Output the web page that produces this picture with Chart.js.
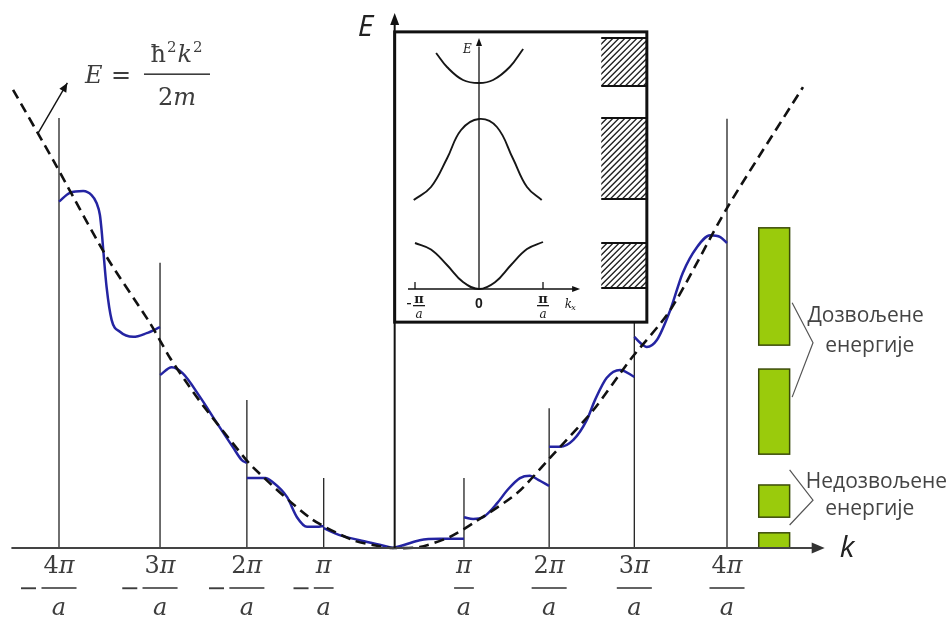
<!DOCTYPE html>
<html><head><meta charset="utf-8">
<script src="https://cdn.jsdelivr.net/npm/chart.js@4.4.1/dist/chart.umd.min.js"></script>
<style>html,body{margin:0;padding:0;background:#fff;overflow:hidden}canvas{display:block}</style>
</head><body>
<canvas id="c" width="952" height="622"></canvas>
<script>
// ---------- main diagram data (k in drawn units of pi/a, E in arbitrary energy units) ----------
const zoneK   = [-4.00,-2.79,-1.75,-0.83,0.85,1.87,2.89,4.00];
const zoneTop = [93.5,62.0,32.2,15.2,15.2,30.4,48.9,93.3];
const tickNum = ["4","3","2","","","2","3","4"];
const tickNeg = [true,true,true,true,false,false,false,false];

const blueK = [
 [-4.00,-3.87,-3.71,-3.61,-3.55,-3.51,-3.49,-3.47,-3.43,-3.37,-3.27,-3.11,-2.95,-2.79],
 [-2.79,-2.65,-2.52,-2.31,-2.11,-1.92,-1.81,-1.75],
 [-1.75,-1.53,-1.44,-1.27,-1.15,-1.03,-0.91,-0.83],
 [-0.83,-0.64,-0.40,-0.16,0],
 [0,0.14,0.32,0.56,0.85],
 [0.85,0.96,1.08,1.25,1.37,1.52,1.64,1.74,1.87],
 [1.87,2.00,2.16,2.32,2.42,2.56,2.72,2.89],
 [2.89,2.96,3.04,3.16,3.32,3.47,3.64,3.80,3.92,4.00]
];
const blueE = [
 [75.3,77.2,77.6,76.7,75.0,72.4,69.1,64.8,56.7,49.6,47.0,45.9,46.7,48.0],
 [37.6,39.3,38.0,32.8,27.2,22.0,19.1,18.5],
 [15.2,15.2,14.3,11.1,6.7,4.6,4.6,4.8],
 [4.3,2.8,1.7,0.7,0],
 [0,0.7,1.7,2.0,2.0],
 [6.7,6.3,6.7,9.8,12.6,15.2,15.7,14.8,13.5],
 [22.0,22.0,23.5,27.8,32.2,37.0,38.7,37.2],
 [45.9,44.6,43.7,45.2,51.7,59.8,65.4,68.0,67.6,66.3]
];

const dashK = [-4.55,-4.07,-3.43,-2.91,-2.67,-2.47,-2.28,-1.92,-1.68,-0.99,-0.48,-0.16,0,0.32,0.68,0.96,1.49,1.88,2.40,2.84,3.32,4.00,4.91];
const dashE = [99.6,84.3,63.3,48.9,41.3,35.9,31.1,22.8,17.6,6.5,1.7,0.4,0,0.2,2.4,5.4,12.0,19.6,30.0,40.9,51.7,73.9,100.2];

// allowed energy bands (green bars)
const bandLo = [44.1,20.4,6.7,0];
const bandHi = [69.6,38.9,13.7,3.3];
const barK   = [4.38,4.75];

// braces next to labels
const braceK1 = [4.78,5.03,4.78], braceE1 = [53.3,44.6,32.8];
const braceK2 = [4.75,5.03,4.75], braceE2 = [17.0,10.4,5.0];

// formula pointer arrow
const arrowK = [-4.25,-3.90], arrowE = [90.2,101.1];

// inset frame (main units)
const boxK = [0.02,3.04], boxE = [49.1,112.2];

// ---------- inset data (k in pi/a, E inset units) ----------
const inK1 = [-1.00,-0.75,-0.50,-0.25,0,0.25,0.50,0.75,1.00];
const inE1 = [1.84,1.58,0.96,0.28,0,0.27,0.96,1.60,1.88];
const inK2 = [-1.02,-0.75,-0.50,-0.28,0,0.28,0.53,0.75,0.98];
const inE2 = [3.56,4.08,5.22,6.36,6.80,6.48,5.22,4.08,3.56];
const inK3 = [-0.67,-0.50,-0.25,0,0.22,0.48,0.69];
const inE3 = [9.44,8.88,8.36,8.24,8.36,8.88,9.60];
const hatchK  = [1.91,2.62];
const hatchLo = [8.12,3.60,0.04];
const hatchHi = [10.04,6.84,1.84];

// ---------- build datasets ----------
const pts = (ks,es)=>ks.map((k,i)=>({x:k,y:es[i]}));
const datasets = [];
datasets.push({data:pts(dashK,dashE), showLine:true, pointRadius:0, borderColor:'#111', borderWidth:2.6,
  borderDash:[10,6], tension:0.25, order:0});
blueK.forEach((ks,i)=>datasets.push({data:pts(ks,blueE[i]), showLine:true, pointRadius:0,
  borderColor:'#2424a2', borderWidth:2.5, cubicInterpolationMode:'monotone', order:1}));
zoneK.forEach((k,i)=>datasets.push({data:[{x:k,y:0},{x:k,y:zoneTop[i]}], showLine:true, pointRadius:0,
  borderColor:'#222', borderWidth:1.3, order:3}));
[[braceK1,braceE1],[braceK2,braceE2]].forEach(([ks,es])=>datasets.push({data:pts(ks,es), showLine:true,
  pointRadius:0, borderColor:'#555', borderWidth:1.2, order:2}));
[[inK1,inE1],[inK2,inE2],[inK3,inE3]].forEach(([ks,es])=>datasets.push({data:pts(ks,es), showLine:true,
  pointRadius:0, borderColor:'#161616', borderWidth:1.9, tension:0.4,
  xAxisID:'xi', yAxisID:'yi', order:2}));

const TXT = '#3d3d3d';
function arrowHead(ctx,x0,y0,x1,y1,len,hw){
  const a=Math.atan2(y1-y0,x1-x0);
  ctx.beginPath();
  ctx.moveTo(x1,y1);
  ctx.lineTo(x1-len*Math.cos(a)+hw*Math.sin(a), y1-len*Math.sin(a)-hw*Math.cos(a));
  ctx.lineTo(x1-len*Math.cos(a)-hw*Math.sin(a), y1-len*Math.sin(a)+hw*Math.cos(a));
  ctx.closePath(); ctx.fill();
}

const decor = {
  id:'decor',
  beforeDraw(chart){
    const ctx=chart.ctx; ctx.save(); ctx.fillStyle='#fff'; ctx.fillRect(0,0,chart.width,chart.height); ctx.restore();
  },
  beforeDatasetsDraw(chart){
    const ctx=chart.ctx, s=chart.scales;
    const X=v=>s.x.getPixelForValue(v), Y=v=>s.y.getPixelForValue(v);
    const XI=v=>s.xi.getPixelForValue(v), YI=v=>s.yi.getPixelForValue(v);
    ctx.save();
    for(let i=0;i<bandLo.length;i++){
      const x0=X(barK[0]), x1=X(barK[1]), y0=Y(bandHi[i]), y1=Y(bandLo[i]);
      ctx.fillStyle='#9acb0c'; ctx.fillRect(x0,y0,x1-x0,y1-y0);
      ctx.strokeStyle='#3a4a08'; ctx.lineWidth=1.5; ctx.strokeRect(x0,y0,x1-x0,y1-y0);
    }
    const bx0=X(boxK[0]), bx1=X(boxK[1]), by0=Y(boxE[1]), by1=Y(boxE[0]);
    ctx.fillStyle='#fff'; ctx.fillRect(bx0,by0,bx1-bx0,by1-by0);
    for(let i=0;i<hatchLo.length;i++){
      const hx0=XI(hatchK[0]), hx1=XI(hatchK[1]), hy0=YI(hatchHi[i]), hy1=YI(hatchLo[i]);
      const h=hy1-hy0;
      ctx.save();
      ctx.beginPath(); ctx.rect(hx0,hy0,hx1-hx0,h); ctx.clip();
      ctx.strokeStyle='#222'; ctx.lineWidth=1.3;
      ctx.beginPath();
      for(let t=hx0-h;t<hx1+6;t+=6){ ctx.moveTo(t,hy1); ctx.lineTo(t+h,hy0); }
      ctx.stroke();
      ctx.restore();
      ctx.strokeStyle='#111'; ctx.lineWidth=2;
      ctx.beginPath(); ctx.moveTo(hx0,hy0); ctx.lineTo(hx1,hy0); ctx.moveTo(hx0,hy1); ctx.lineTo(hx1,hy1); ctx.stroke();
    }
    ctx.restore();
  },
  afterDatasetsDraw(chart){
    const ctx=chart.ctx, s=chart.scales;
    const X=v=>s.x.getPixelForValue(v), Y=v=>s.y.getPixelForValue(v);
    const XI=v=>s.xi.getPixelForValue(v), YI=v=>s.yi.getPixelForValue(v);
    ctx.save();
    ctx.strokeStyle='#111'; ctx.lineWidth=3;
    ctx.strokeRect(X(boxK[0]),Y(boxE[1]),X(boxK[1])-X(boxK[0]),Y(boxE[0])-Y(boxE[1]));
    const y0=Y(0);
    ctx.strokeStyle='#444'; ctx.fillStyle='#333'; ctx.lineWidth=2;
    ctx.beginPath(); ctx.moveTo(X(-4.57),y0); ctx.lineTo(X(5.05),y0); ctx.stroke();
    arrowHead(ctx,X(-4.57),y0,X(5.17),y0,13,5.5);
    const xe=X(0.02);
    ctx.strokeStyle='#111'; ctx.fillStyle='#111';
    ctx.beginPath(); ctx.moveTo(xe,y0); ctx.lineTo(xe,Y(114)); ctx.stroke();
    arrowHead(ctx,xe,y0,xe,Y(116.3),12,4.5);
    ctx.strokeStyle='#111'; ctx.lineWidth=1.4;
    ctx.beginPath(); ctx.moveTo(X(arrowK[0]),Y(arrowE[0])); ctx.lineTo(X(arrowK[1]),Y(arrowE[1])); ctx.stroke();
    arrowHead(ctx,X(arrowK[0]),Y(arrowE[0]),X(arrowK[1]),Y(arrowE[1]),9,4);

    ctx.strokeStyle='#111'; ctx.fillStyle='#111'; ctx.lineWidth=1.3;
    const yi0=YI(0), xi0=XI(0);
    ctx.beginPath(); ctx.moveTo(XI(-1.11),yi0); ctx.lineTo(XI(1.50),yi0);
    ctx.moveTo(xi0,yi0); ctx.lineTo(xi0,YI(9.7));
    ctx.moveTo(XI(-1),yi0); ctx.lineTo(XI(-1),yi0-7);
    ctx.moveTo(XI(1),yi0); ctx.lineTo(XI(1),yi0-7);
    ctx.stroke();
    arrowHead(ctx,XI(0),yi0,XI(1.58),yi0,8,3);
    arrowHead(ctx,xi0,yi0,xi0,YI(10.04),8,3);

    ctx.fillStyle=TXT; ctx.textBaseline='alphabetic';
    for(let i=0;i<zoneK.length;i++){
      const cx=X(zoneK[i]);
      ctx.font='24px "DejaVu Serif"'; const wd=ctx.measureText(tickNum[i]).width;
      ctx.font='italic 24px "DejaVu Serif"'; const wp=ctx.measureText('π').width, wa=ctx.measureText('a').width;
      const wn=wd+wp, sx=cx-wn/2;
      ctx.textAlign='left';
      ctx.font='24px "DejaVu Serif"'; ctx.fillText(tickNum[i],sx,y0+25);
      ctx.font='italic 24px "DejaVu Serif"'; ctx.fillText('π',sx+wd,y0+25);
      ctx.fillText('a',cx-wa/2,y0+67);
      const bw=Math.max(wn,wa)+4;
      ctx.fillRect(cx-bw/2,y0+39.2,bw,1.6);
      if(tickNeg[i]){ ctx.font='24px "DejaVu Serif"'; ctx.textAlign='right'; ctx.fillText('−',cx-bw/2-3,y0+48); }
    }
    const fb=Y(101.1), fx=X(-3.69);
    ctx.textAlign='left';
    ctx.font='italic 24px "DejaVu Serif"'; ctx.fillText('E',fx,fb);
    ctx.font='24px "DejaVu Serif"'; ctx.fillText('=',fx+26,fb);
    const fcx=X(-2.587), fbar=Y(103);
    ctx.fillRect(fcx-33,fbar-0.8,66,1.6);
    const parts=[['ħ','24px "DejaVu Serif"',0],['2','15px "DejaVu Serif"',10],['k','italic 24px "DejaVu Serif"',0],['2','15px "DejaVu Serif"',10]];
    let tw=0; parts.forEach(p=>{ctx.font=p[1]; p.push(ctx.measureText(p[0]).width); tw+=p[3]+1;});
    let px=fcx-tw/2;
    parts.forEach(p=>{ctx.font=p[1]; ctx.fillText(p[0],px,fbar-12-p[2]); px+=p[3]+1;});
    ctx.font='24px "DejaVu Serif"'; const w2=ctx.measureText('2').width;
    ctx.font='italic 24px "DejaVu Serif"'; const wm=ctx.measureText('m').width;
    const dx=fcx-(w2+wm)/2;
    ctx.font='24px "DejaVu Serif"'; ctx.fillText('2',dx,fbar+31);
    ctx.font='italic 24px "DejaVu Serif"'; ctx.fillText('m',dx+w2,fbar+31);

    ctx.fillStyle='#222';
    ctx.font='italic 30px "Open Sans"'; ctx.textAlign='left';
    ctx.fillText('k',X(5.35),y0+9);
    ctx.fillText('E',xe-37,Y(111.2));

    ctx.fillStyle='#444'; ctx.font='21px "Open Sans"'; ctx.textAlign='center';
    ctx.fillText('Дозвољене',X(5.66),Y(49.1));
    ctx.fillText('енергије',X(5.71),Y(42.6));
    ctx.fillText('Недозвољене',X(5.79),Y(13.0));
    ctx.fillText('енергије',X(5.71),Y(7.2));

    ctx.fillStyle='#1a1a1a';
    ctx.font='italic 12px "DejaVu Serif"'; ctx.textAlign='left';
    ctx.fillText('E',XI(-0.25),YI(9.44));
    ctx.font='bold 14px "Liberation Sans"'; ctx.textAlign='center';
    ctx.fillText('0',XI(0),yi0+19);
    ctx.font='bold 13px "DejaVu Serif"';
    [[-1,true],[1,false]].forEach(([k,neg])=>{
      const cx=XI(k)+ (neg?4:0);
      ctx.textAlign='center';
      ctx.fillText('π',cx,yi0+14);
      ctx.fillRect(cx-6,yi0+16,12,1.3);
      ctx.font='italic 12px "DejaVu Serif"';
      ctx.fillText('a',cx,yi0+29);
      ctx.font='bold 13px "DejaVu Serif"';
      if(neg){ ctx.fillRect(cx-12,yi0+14,4,1.3); }
    });
    ctx.font='italic 12px "DejaVu Serif"'; ctx.textAlign='left';
    ctx.fillText('k',XI(1.34),yi0+19);
    ctx.font='italic 8px "DejaVu Serif"';
    ctx.fillText('x',XI(1.44),yi0+21);
    ctx.restore();
  }
};

new Chart(document.getElementById('c'),{
  type:'scatter',
  data:{datasets},
  options:{
    responsive:false, animation:false, devicePixelRatio:1, events:[],
    layout:{padding:0},
    plugins:{legend:{display:false},tooltip:{enabled:false}},
    scales:{
      x:{type:'linear',min:-4.7066,max:6.6946,display:false},
      y:{type:'linear',min:-16.087,max:119.13,display:false},
      xi:{type:'linear',axis:'x',min:-7.4844,max:7.3906,display:false},
      yi:{type:'linear',axis:'y',min:-13.32,max:11.56,display:false}
    }
  },
  plugins:[decor]
});
</script>
</body></html>
